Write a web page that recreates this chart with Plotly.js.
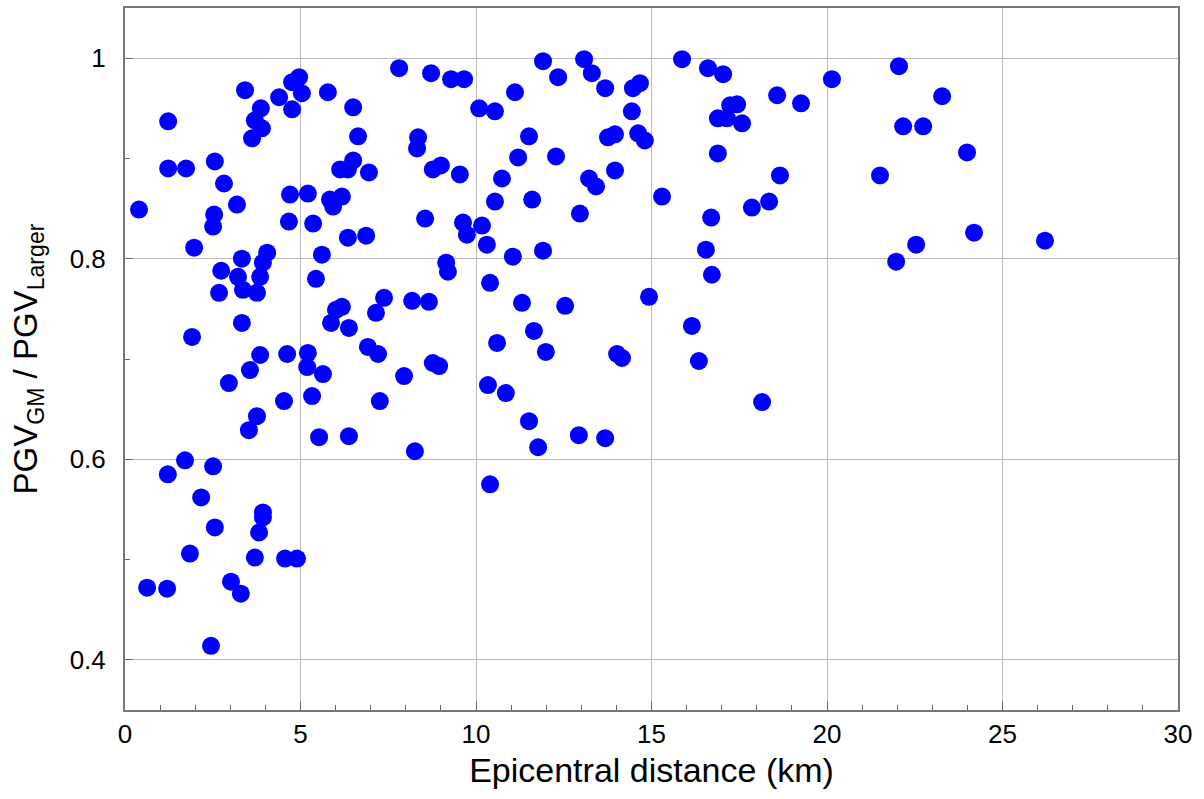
<!DOCTYPE html>
<html>
<head>
<meta charset="utf-8">
<script src="https://cdn.plot.ly/plotly-3.0.1.min.js"></script>
<style>html,body{margin:0;padding:0;background:#fff;}#chart{width:1204px;height:799px;}</style>
</head>
<body>
<div id="chart"></div>
<script>
const distance = [0.40,0.63,1.20,1.22,1.23,1.23,1.71,1.74,1.85,1.91,1.97,2.17,2.45,2.51,2.51,2.54,2.56,2.56,2.68,2.74,2.82,2.96,3.02,3.19,3.22,3.30,3.33,3.33,3.36,3.42,3.53,3.56,3.62,3.70,3.70,3.76,3.76,3.82,3.85,3.85,3.87,3.90,3.93,3.93,3.93,4.05,4.39,4.53,4.56,4.62,4.67,4.70,4.76,4.76,4.90,4.96,5.04,5.19,5.21,5.21,5.33,5.36,5.44,5.53,5.61,5.64,5.78,5.84,5.87,5.93,6.01,6.13,6.18,6.18,6.35,6.35,6.38,6.38,6.50,6.50,6.64,6.87,6.92,6.95,7.15,7.21,7.26,7.38,7.81,7.95,8.18,8.26,8.35,8.32,8.55,8.66,8.72,8.77,8.77,8.95,9.00,9.15,9.20,9.29,9.54,9.63,9.66,9.74,10.09,10.17,10.31,10.34,10.40,10.40,10.54,10.54,10.60,10.74,10.85,11.05,11.11,11.20,11.31,11.51,11.51,11.60,11.65,11.77,11.91,11.91,11.99,12.28,12.34,12.54,12.93,12.96,13.08,13.22,13.30,13.42,13.68,13.68,13.76,13.96,13.96,14.02,14.16,14.44,14.47,14.62,14.67,14.81,14.93,15.30,15.87,16.15,16.35,16.55,16.61,16.70,16.72,16.89,16.89,17.04,17.15,17.24,17.44,17.58,17.86,18.15,18.35,18.58,18.66,19.26,20.14,21.51,21.97,22.05,22.17,22.54,22.74,23.28,23.99,24.19,26.21];
const ratio = [0.849,0.472,0.471,0.585,0.937,0.890,0.599,0.890,0.506,0.722,0.811,0.562,0.414,0.593,0.832,0.844,0.532,0.897,0.766,0.788,0.875,0.676,0.478,0.854,0.782,0.466,0.800,0.736,0.769,0.968,0.629,0.689,0.920,0.938,0.502,0.766,0.643,0.527,0.782,0.704,0.950,0.930,0.796,0.547,0.542,0.806,0.961,0.658,0.501,0.705,0.837,0.864,0.976,0.949,0.501,0.981,0.965,0.692,0.706,0.865,0.663,0.835,0.780,0.622,0.804,0.685,0.966,0.859,0.736,0.852,0.749,0.889,0.862,0.752,0.889,0.821,0.731,0.623,0.951,0.898,0.922,0.823,0.712,0.886,0.746,0.705,0.658,0.761,0.990,0.683,0.758,0.608,0.921,0.910,0.840,0.757,0.985,0.889,0.696,0.693,0.893,0.796,0.787,0.979,0.884,0.836,0.979,0.824,0.950,0.833,0.814,0.674,0.776,0.575,0.947,0.857,0.716,0.880,0.666,0.802,0.966,0.901,0.756,0.922,0.638,0.859,0.728,0.612,0.997,0.808,0.707,0.902,0.981,0.753,0.624,0.845,0.999,0.880,0.985,0.872,0.970,0.621,0.921,0.924,0.888,0.705,0.701,0.947,0.970,0.925,0.975,0.918,0.762,0.862,0.999,0.733,0.698,0.809,0.990,0.841,0.784,0.940,0.905,0.984,0.940,0.953,0.954,0.935,0.851,0.657,0.857,0.963,0.883,0.955,0.979,0.883,0.797,0.992,0.932,0.814,0.932,0.962,0.906,0.826,0.818];

const xTickVals = [0,5,10,15,20,25,30];
const yTickVals = [0.4,0.6,0.8,1];
const yTickText = ['0.4','0.6','0.8','1'];

const trace = {
  x: distance, y: ratio, type: 'scatter', mode: 'markers',
  marker: {color: '#0000FF', size: 18, line: {width: 0}},
  hoverinfo: 'skip'
};

const fontFam = 'Liberation Sans, Arial, sans-serif';
const layout = {
  width: 1204, height: 799,
  margin: {l: 125, r: 26, t: 8, b: 89},
  paper_bgcolor: '#fff', plot_bgcolor: '#fff',
  showlegend: false,
  font: {family: fontFam, color: '#000'},
  xaxis: {
    range: [0, 30], tickvals: xTickVals,
    ticks: 'inside', ticklen: 8, tickcolor: '#666', tickwidth: 1,
    minor: {dtick: 1, tick0: 0, ticks: 'inside', ticklen: 5, tickcolor: '#666', showgrid: false},
    showgrid: true, gridcolor: '#bbb', gridwidth: 1,
    showline: true, mirror: true, linecolor: '#777', linewidth: 2,
    zeroline: false, automargin: false,
    tickfont: {size: 26, family: fontFam},
    title: {text: 'Epicentral distance (km)', font: {size: 34, family: fontFam}, standoff: 10}
  },
  yaxis: {
    range: [0.35, 1.05], tickvals: yTickVals, ticktext: yTickText,
    ticks: 'inside', ticklen: 8, tickcolor: '#666', tickwidth: 1,
    minor: {dtick: 0.1, tick0: 0.4, ticks: 'inside', ticklen: 5, tickcolor: '#666', showgrid: false},
    showgrid: true, gridcolor: '#bbb', gridwidth: 1,
    showline: true, mirror: true, linecolor: '#777', linewidth: 2,
    zeroline: false, automargin: false,
    ticklabelstandoff: 12,
    tickfont: {size: 26, family: fontFam},
    title: {text: 'PGV<sub>GM</sub> / PGV<sub>Larger</sub>', font: {size: 33, family: fontFam}, standoff: 22}
  }
};

Plotly.newPlot('chart', [trace], layout, {displayModeBar: false, staticPlot: true});
</script>
</body>
</html>
